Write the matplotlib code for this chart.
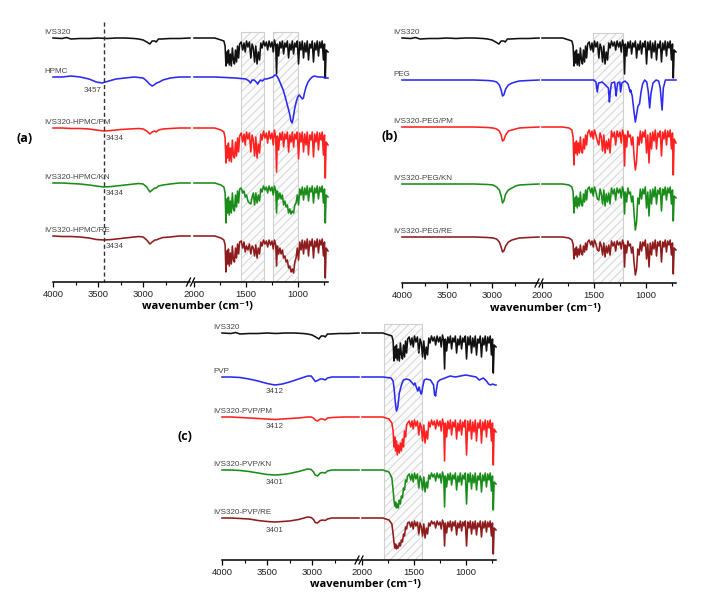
import numpy as np
import matplotlib
matplotlib.use("Agg")
import matplotlib.pyplot as plt
from matplotlib.patches import Rectangle
from matplotlib.lines import Line2D

plt.rcParams["hatch.linewidth"] = 0.6

# ---------------- data (depth below each trace's baseline, arbitrary px units) ----------------
# shared wavenumber grid for IVS320-containing spectra, 2000-708 cm-1 segment
ivs_wn_r = [2000, 1800, 1740, 1712, 1700, 1692, 1684, 1676, 1668, 1660,
            1650, 1640, 1630, 1620, 1610, 1600, 1590, 1580, 1570, 1560,
            1545, 1530, 1518, 1506, 1494, 1480, 1466, 1452, 1440, 1428,
            1416, 1404, 1392, 1380, 1368, 1356, 1344, 1330, 1316, 1302,
            1290, 1276, 1262, 1248, 1236, 1224, 1212, 1204, 1196, 1184,
            1172, 1160, 1148, 1136, 1124, 1112, 1100, 1088, 1076, 1064,
            1052, 1040, 1028, 1016, 1004, 992, 980, 968, 956, 944,
            932, 920, 908, 896, 884, 872, 860, 848, 836, 824,
            812, 800, 788, 776, 764, 752, 742, 734, 726, 708]

ivs_wn_l = [4000, 3900, 3850, 3800, 3700, 3600, 3500, 3400, 3300, 3200, 3100, 3050,
            3000, 2960, 2925, 2900, 2870, 2855, 2830, 2800, 2700, 2600, 2480]
ivs_d_l = [0, 0.5, -0.5, 1, 0.5, 0.5, 0, 0.5, 0, 0, 0.5, 1,
           2, 4, 6, 3, 3, 4, 1, 1, 0.5, 0.5, 0]
ivs_d_r = [0, 0, 2, 3, 8, 28, 14, 25, 12, 27,
           16, 28, 10, 22, 26, 12, 24, 8, 20, 6,
           4, 12, 5, 14, 3, 9, 4, 20, 6, 10,
           24, 8, 26, 14, 22, 5, 10, 3, 8, 4,
           12, 3, 9, 4, 14, 2, 8, 36, 6, 18,
           4, 10, 3, 16, 5, 9, 3, 20, 6, 12,
           3, 16, 5, 9, 3, 26, 4, 12, 3, 20,
           5, 14, 3, 22, 6, 10, 3, 24, 5, 12,
           3, 18, 4, 10, 3, 22, 6, 40, 12, 14]

# (a) HPMC series
hpmc_wn_l = [4000, 3900, 3800, 3700, 3600, 3520, 3457, 3380, 3300, 3200, 3100,
             3000, 2960, 2930, 2900, 2880, 2850, 2820, 2780, 2700, 2600, 2480]
hpmc_d_l = [0, 0, -1, 0, 2, 5, 6, 4, 2, 1, 0,
            1, 4, 7, 9, 8, 6, 5, 3, 1, 0, 0]
hpmc_wn_r = [2000, 1800, 1600, 1500, 1470, 1455, 1440, 1420, 1400, 1385, 1375, 1360,
             1340, 1320, 1300, 1270, 1240, 1220, 1200, 1180, 1160, 1140, 1120, 1100,
             1080, 1065, 1055, 1045, 1030, 1015, 1000, 985, 970, 955, 945, 935,
             920, 900, 880, 860, 840, 800, 760, 740, 708]
hpmc_d_r = [0, 0, 1, 2, 4, 6, 3, 3, 5, 7, 5, 3,
            4, 2, 2, 1, 0, -2, -1, 3, 8, 13, 20, 28,
            36, 44, 46, 42, 32, 25, 20, 18, 20, 22, 21, 16,
            10, 5, 2, 0, -1, 0, 0, 1, 1]

mix_wn_l = [4000, 3900, 3800, 3700, 3600, 3520, 3434, 3350, 3250, 3150, 3050,
            3000, 2960, 2925, 2900, 2870, 2855, 2830, 2780, 2700, 2600, 2480]
pm_a_d_l = [0, 0, 0.5, 0.5, 1, 2, 3, 2.5, 1.5, 1, 0.5,
            1, 3, 6, 4, 3, 4, 2, 1, 0.5, 0, 0]
kn_a_d_l = [0, 0, 0.5, 1, 2, 3, 4, 3.5, 2.5, 1.5, 0.5,
            1, 4, 9, 7, 5, 5, 3, 2, 1, 0, 0]
re_a_d_l = [0, 0.5, 0.5, 1, 2, 3.5, 4, 3.5, 2.5, 1.5, 0.5,
            1, 4, 8, 6, 4, 4, 3, 1.5, 1, 0, 0]
pm_a_d_r = [0, 0, 2, 4, 10, 35, 18, 30, 15, 33,
            20, 34, 12, 28, 30, 14, 28, 10, 24, 8,
            5, 14, 6, 17, 4, 11, 5, 24, 7, 12,
            28, 9, 30, 16, 25, 6, 12, 3, 10, 5,
            15, 3, 11, 5, 17, 2, 10, 44, 8, 22,
            5, 12, 4, 19, 6, 11, 4, 24, 7, 14,
            4, 19, 6, 11, 4, 31, 5, 14, 4, 24,
            6, 17, 4, 27, 7, 12, 4, 29, 6, 14,
            4, 22, 5, 12, 4, 27, 7, 50, 14, 17]
kn_a_d_r = [0, 0, 2, 4, 10, 40, 16, 30, 14, 32,
            18, 30, 10, 26, 28, 12, 24, 8, 20, 6,
            5, 10, 8, 14, 12, 18, 20, 21, 14, 10,
            22, 10, 20, 12, 18, 6, 9, 3, 7, 4,
            10, 3, 8, 4, 12, 3, 8, 30, 8, 16,
            10, 16, 12, 22, 18, 24, 22, 30, 26, 31,
            28, 30, 22, 20, 12, 22, 6, 12, 4, 17,
            5, 12, 3, 18, 5, 9, 3, 20, 5, 10,
            3, 16, 4, 9, 3, 20, 6, 40, 12, 14]
re_a_d_r = [0, 0, 2, 4, 9, 36, 15, 28, 13, 30,
            17, 28, 10, 24, 26, 12, 22, 8, 18, 6,
            5, 12, 6, 16, 10, 14, 8, 18, 10, 12,
            20, 9, 22, 12, 18, 6, 10, 4, 8, 5,
            11, 4, 9, 5, 13, 4, 9, 30, 10, 18,
            12, 18, 14, 22, 20, 26, 24, 32, 30, 36,
            33, 37, 26, 22, 12, 24, 6, 14, 4, 18,
            5, 13, 3, 20, 5, 10, 3, 22, 5, 11,
            3, 17, 4, 9, 3, 20, 6, 42, 12, 15]

# (b) PEG series
peg_wn_l = [4000, 3800, 3600, 3400, 3200, 3050, 2990, 2950, 2920, 2900,
            2885, 2870, 2850, 2820, 2780, 2740, 2700, 2600, 2480]
peg_d_l = [0, 0, 0, 0, 0, 0.5, 1, 2, 5, 10, 16, 15, 9, 5, 3, 2, 1, 0.5, 0]
pm_b_d_l = [0, 0, 0, 0, 0, 0.5, 1, 2, 4, 8, 14, 13, 8, 4, 3, 2, 1, 0.5, 0]
kn_b_d_l = [0, 0, 0, 0, 0, 0.5, 1, 3, 6, 12, 19, 17, 10, 6, 4, 2, 1, 0.5, 0]
re_b_d_l = [0, 0, 0, 0, 0, 0.5, 1, 2, 5, 10, 15, 14, 9, 5, 3, 2, 1, 0.5, 0]
peg_wn_r = [2000, 1800, 1600, 1500, 1480, 1467, 1455, 1420, 1400, 1360, 1350, 1342,
            1330, 1300, 1285, 1280, 1270, 1250, 1242, 1230, 1200, 1170, 1150, 1145,
            1130, 1115, 1100, 1090, 1075, 1060, 1045, 1030, 1010, 990, 975, 962,
            950, 930, 900, 875, 860, 842, 830, 810, 780, 740, 708]
peg_d_r = [0, 0, 0, 0, 2, 12, 3, 2, 4, 8, 22, 12,
           3, 2, 16, 10, 3, 2, 12, 3, 1, 4, 12, 10,
           16, 30, 42, 36, 26, 24, 12, 4, 0, 2, 12, 28,
           14, 3, 0, 1, 8, 30, 8, 0, 0, 0, 0]
pm_b_d_r = [0, 0, 1, 3, 10, 38, 16, 26, 14, 28,
            16, 26, 10, 24, 26, 12, 22, 8, 18, 6,
            3, 10, 4, 12, 3, 8, 14, 18, 6, 10,
            24, 8, 26, 14, 22, 12, 26, 4, 10, 5,
            18, 4, 10, 5, 16, 3, 8, 39, 8, 20,
            4, 10, 8, 18, 10, 30, 43, 34, 10, 18,
            4, 16, 5, 10, 3, 26, 8, 36, 6, 22,
            5, 14, 3, 22, 6, 10, 4, 29, 5, 12,
            3, 18, 4, 10, 3, 22, 6, 48, 12, 16]
kn_b_d_r = [0, 0, 1, 3, 8, 29, 14, 22, 12, 24,
            14, 22, 8, 20, 22, 10, 18, 6, 16, 5,
            3, 9, 4, 12, 3, 8, 15, 16, 5, 10,
            20, 6, 22, 10, 18, 9, 20, 4, 10, 5,
            16, 4, 9, 5, 14, 3, 8, 30, 8, 18,
            4, 10, 8, 18, 12, 30, 46, 38, 14, 20,
            5, 15, 5, 10, 3, 24, 8, 32, 6, 20,
            5, 13, 3, 20, 6, 10, 4, 27, 5, 11,
            3, 16, 4, 9, 3, 20, 6, 37, 12, 14]
re_b_d_r = [0, 0, 1, 3, 7, 22, 12, 18, 10, 20,
            12, 18, 8, 16, 18, 9, 15, 6, 13, 5,
            3, 8, 4, 10, 3, 7, 13, 14, 5, 9,
            18, 6, 20, 9, 16, 8, 18, 4, 9, 5,
            14, 4, 8, 5, 12, 3, 7, 30, 8, 16,
            4, 9, 7, 16, 10, 26, 38, 32, 12, 18,
            5, 14, 5, 9, 3, 22, 7, 30, 6, 18,
            5, 12, 3, 19, 5, 9, 4, 25, 5, 10,
            3, 15, 4, 8, 3, 18, 6, 37, 11, 13]

# (c) PVP series
pvp_wn_l = [4000, 3900, 3800, 3700, 3600, 3500, 3412, 3330, 3250, 3150, 3050,
            3010, 2985, 2965, 2940, 2910, 2880, 2855, 2830, 2780, 2650, 2480]
pvp_d_l = [0, 0, 0.5, 2, 4, 6.5, 8, 7, 5, 2, -1,
           -1, 2, 4.5, 3.5, 2, 2, 3, 1, 0, 0, 0]
pm_c_d_l = [0, 0, 0.5, 1, 1.5, 2, 2.5, 2, 1.5, 1, 0,
            0, 1, 3, 4, 2, 2, 3, 1, 0.5, 0, 0]
kn_c_d_l = [0, 0, 0.5, 1.5, 3, 4.5, 5, 4.5, 3.5, 1.5, -1,
            -0.5, 2, 5, 6, 3, 2.5, 3, 1, 0, 0, 0]
re_c_d_l = [0, 0, 0.5, 1, 2.5, 3.5, 4, 3.5, 3, 1.5, -1,
            -0.5, 1.5, 4.5, 5, 2.5, 2, 2.5, 1, 0, 0, 0]
pvp_wn_r = [2000, 1800, 1720, 1700, 1690, 1680, 1668, 1655, 1640, 1620, 1600, 1570,
            1540, 1500, 1490, 1470, 1462, 1450, 1440, 1430, 1424, 1415, 1400, 1380,
            1340, 1310, 1300, 1290, 1285, 1270, 1250, 1200, 1150, 1100, 1050, 1000,
            950, 900, 870, 850, 830, 800, 780, 760, 740, 720, 708]
pvp_d_r = [0, 0, 1, 4, 12, 24, 34, 30, 16, 8, 3, 2,
           3, 8, 6, 12, 14, 10, 14, 17, 16, 10, 3, 2,
           3, 8, 18, 19, 14, 5, 3, 1, -1, 0, -1, -2,
           -1, 0, 3, 2, 1, 4, 7, 8, 7, 8, 8]
pm_c_d_r = [0, 0, 2, 6, 14, 30, 20, 34, 24, 38,
            28, 36, 26, 34, 22, 30, 14, 20, 8, 6,
            4, 10, 4, 12, 3, 9, 4, 18, 6, 10,
            24, 8, 26, 14, 22, 5, 10, 3, 8, 4,
            12, 3, 9, 4, 14, 2, 8, 44, 6, 20,
            4, 12, 3, 18, 5, 10, 3, 22, 6, 14,
            3, 18, 5, 10, 3, 38, 4, 14, 3, 22,
            5, 15, 3, 24, 6, 11, 3, 26, 5, 13,
            3, 20, 4, 11, 3, 24, 6, 48, 12, 15]
kn_c_d_r = [0, 0, 2, 8, 20, 30, 36, 32, 38, 34,
            38, 30, 34, 26, 28, 18, 20, 10, 12, 6,
            4, 10, 4, 12, 3, 9, 4, 18, 6, 10,
            20, 7, 22, 12, 18, 5, 9, 3, 7, 4,
            11, 3, 8, 4, 13, 2, 7, 37, 6, 17,
            4, 10, 3, 15, 5, 9, 3, 20, 6, 12,
            3, 15, 5, 9, 3, 34, 4, 12, 3, 19,
            5, 13, 3, 20, 6, 10, 3, 22, 5, 11,
            3, 17, 4, 10, 3, 21, 6, 40, 12, 14]
re_c_d_r = [0, 0, 2, 6, 16, 24, 30, 26, 31, 28,
            30, 25, 28, 22, 24, 16, 18, 9, 11, 5,
            4, 9, 4, 11, 3, 8, 4, 16, 5, 9,
            18, 6, 20, 10, 16, 5, 8, 3, 6, 4,
            10, 3, 7, 4, 11, 2, 6, 28, 5, 15,
            4, 9, 3, 13, 4, 8, 3, 17, 5, 10,
            3, 13, 4, 8, 3, 28, 4, 10, 3, 16,
            4, 11, 3, 17, 5, 9, 3, 19, 4, 10,
            3, 14, 4, 9, 3, 18, 5, 36, 10, 12]

labels_a = ["IVS320", "HPMC", "IVS320-HPMC/PM", "IVS320-HPMC/KN", "IVS320-HPMC/RE"]
labels_b = ["IVS320", "PEG", "IVS320-PEG/PM", "IVS320-PEG/KN", "IVS320-PEG/RE"]
labels_c = ["IVS320", "PVP", "IVS320-PVP/PM", "IVS320-PVP/KN", "IVS320-PVP/RE"]
colors = ["#111111", "#2a2af0", "#ff2020", "#1a8c1a", "#8e1c1c"]

# ---------------- layout (figure pixels) ----------------
W, H = 701, 614
fig = plt.figure(figsize=(W / 100, H / 100), dpi=100)
LFONT = ["Liberation Sans", "DejaVu Sans"]


def fx(x, y):
    return x / W, 1 - y / H


def panel(xl0, xl1, xr0, xr1, ytop, ybot, series, hatches):
    axl = fig.add_axes([xl0 / W, 1 - ybot / H, (xl1 - xl0) / W, (ybot - ytop) / H])
    axr = fig.add_axes([xr0 / W, 1 - ybot / H, (xr1 - xr0) / W, (ybot - ytop) / H])
    axl.set_xlim(4000, 2480)
    axr.set_xlim(2000, 708)
    axl.set_xticks([4000, 3500, 3000])
    axl.set_xticks([3750, 3250, 2750], minor=True)
    axr.set_xticks([2000, 1500, 1000])
    axr.set_xticks([1750, 1250, 750], minor=True)
    for ax in (axl, axr):
        ax.set_ylim(ybot, ytop)
        ax.patch.set_alpha(0)
        for s in ("top", "left", "right"):
            ax.spines[s].set_visible(False)
        ax.spines["bottom"].set_linewidth(1.1)
        ax.set_yticks([])
        ax.tick_params(axis="x", which="major", length=3.5, width=0.9, pad=2,
                       labelsize=6.8, labelcolor="#222222")
        ax.tick_params(axis="x", which="minor", length=2.2, width=0.8)
        for t in ax.get_xticklabels():
            t.set_family(LFONT)
    for wl, dl, wr, dr, base, col, lab in series:
        axl.plot(wl, base + np.array(dl), color=col, lw=1.15, clip_on=False)
        axr.plot(wr, base + np.array(dr), color=col, lw=1.15, clip_on=False)
        axl.annotate(lab, xy=(4000, base), xytext=(-6, 1.2), textcoords="offset points",
                     ha="left", va="bottom", fontsize=5.8, color="#444444", family=LFONT)
    for w0, w1, top in hatches:
        axr.add_patch(Rectangle((w1, top), w0 - w1, ybot - top, facecolor="#fbfbfb",
                                edgecolor="#cfcfcf", hatch="////", lw=0.8, zorder=0))
    g = (xl1 + xr0) / 2
    for dx in (-4, 0):
        fig.add_artist(Line2D([fx(g + dx - 1.5, ybot + 4)[0], fx(g + dx + 2.5, ybot - 4)[0]],
                              [fx(0, ybot + 4)[1], fx(0, ybot - 4)[1]],
                              color="black", lw=0.9, transform=fig.transFigure))
    cx = (xl0 + xr1) / 2 + 7
    fig.text(*fx(cx, ybot + 25), "wavenumber (cm\u207b\u00b9)", ha="center", va="center",
             fontsize=8, fontweight="bold", family=["Open Sans", "DejaVu Sans"])
    return axl, axr


# panel (a)
base_a = [38, 77, 128, 183, 236]
ser_a = [(ivs_wn_l, ivs_d_l, ivs_wn_r, ivs_d_r),
         (hpmc_wn_l, hpmc_d_l, hpmc_wn_r, hpmc_d_r),
         (mix_wn_l, pm_a_d_l, ivs_wn_r, pm_a_d_r),
         (mix_wn_l, kn_a_d_l, ivs_wn_r, kn_a_d_r),
         (mix_wn_l, re_a_d_l, ivs_wn_r, re_a_d_r)]
axl, axr = panel(53, 190, 194, 328, 12, 282,
                 [s + (b, c, l) for s, b, c, l in zip(ser_a, base_a, colors, labels_a)],
                 [(1548, 1327, 32), (1240, 1000, 32)])
axl.plot([3434, 3434], [22, 282], color="#333333", lw=1.0, ls=(0, (3, 2)), clip_on=False)
axl.annotate("3457", xy=(3434, base_a[1]), xytext=(-1.5, -10), textcoords="offset points",
             ha="right", va="center", fontsize=5.8, color="#444444", family=LFONT)
for b in base_a[2:]:
    axl.annotate("3434", xy=(3434, b), xytext=(1.5, -7.5), textcoords="offset points",
                 ha="left", va="center", fontsize=5.8, color="#444444", family=LFONT)
fig.text(*fx(25, 138), "(a)", ha="center", va="center", fontsize=9, fontweight="bold",
         family=["Open Sans", "DejaVu Sans"])

# panel (b)
base_b = [38, 80, 127, 184, 237]
ser_b = [(ivs_wn_l, ivs_d_l, ivs_wn_r, ivs_d_r),
         (peg_wn_l, peg_d_l, peg_wn_r, peg_d_r),
         (peg_wn_l, pm_b_d_l, ivs_wn_r, pm_b_d_r),
         (peg_wn_l, kn_b_d_l, ivs_wn_r, kn_b_d_r),
         (peg_wn_l, re_b_d_l, ivs_wn_r, re_b_d_r)]
panel(402, 539, 542, 676, 12, 283,
      [s + (b, c, l) for s, b, c, l in zip(ser_b, base_b, colors, labels_b)],
      [(1510, 1221, 33)])
fig.text(*fx(390, 137), "(b)", ha="center", va="center", fontsize=9, fontweight="bold",
         family=["Open Sans", "DejaVu Sans"])

# panel (c)
base_c = [333, 377, 417, 470, 518]
ser_c = [(ivs_wn_l, ivs_d_l, ivs_wn_r, ivs_d_r),
         (pvp_wn_l, pvp_d_l, pvp_wn_r, pvp_d_r),
         (pvp_wn_l, pm_c_d_l, ivs_wn_r, pm_c_d_r),
         (pvp_wn_l, kn_c_d_l, ivs_wn_r, kn_c_d_r),
         (pvp_wn_l, re_c_d_l, ivs_wn_r, re_c_d_r)]
axl, axr = panel(222, 359, 362, 496, 315, 560,
                 [s + (b, c, l) for s, b, c, l in zip(ser_c, base_c, colors, labels_c)],
                 [(1790, 1425, 324)])
for lab, b, dy in zip(["3412", "3412", "3401", "3401"], base_c[1:], [15, 10, 12, 13]):
    axl.annotate(lab, xy=(3411, b), xytext=(0, -dy * 0.72), textcoords="offset points",
                 ha="center", va="center", fontsize=5.8, color="#444444", family=LFONT)
for b in base_c[:1] + base_c[2:]:
    axr.annotate("*", xy=(1460, b), xytext=(0, -13), textcoords="offset points",
                 ha="center", va="center", fontsize=4.5, color="#888888")
fig.text(*fx(185, 437), "(c)", ha="center", va="center", fontsize=9, fontweight="bold",
         family=["Open Sans", "DejaVu Sans"])

fig.savefig("out.png", dpi=100)
